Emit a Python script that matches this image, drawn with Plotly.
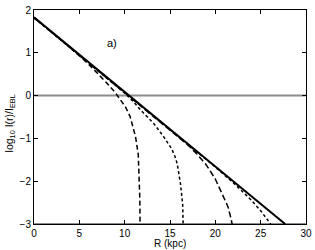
import plotly.graph_objects as go

# Data
R_solid = [0.0, 27.7]
y_solid = [1.83, -3.0]

R_c1 = [0, 4, 6, 7, 8, 9, 9.55, 10.1, 10.6, 11.2, 11.5, 11.6, 11.67, 11.7]
y_c1 = [1.82, 1.12, 0.74, 0.53, 0.30, 0.06, -0.10, -0.27, -0.49, -0.96, -1.38, -1.8, -2.4, -3.0]

R_c2 = [0, 4, 8, 9, 10, 11, 11.73, 13.2, 14.3, 15.2, 15.6, 15.8, 16.15, 16.4, 16.45]
y_c2 = [1.82, 1.12, 0.43, 0.25, 0.06, -0.15, -0.33, -0.65, -0.96, -1.25, -1.45, -1.6, -2.05, -2.55, -3.0]

R_c3 = [0, 5, 10, 15, 16, 17, 18, 19, 20, 20.8, 21.4, 21.7, 21.85]
y_c3 = [1.82, 0.95, 0.08, -0.79, -0.97, -1.16, -1.37, -1.62, -1.95, -2.3, -2.6, -2.85, -3.0]

R_c4 = [0, 5, 10, 15, 20, 22, 23, 24, 25, 25.7, 26.1]
y_c4 = [1.82, 0.95, 0.08, -0.79, -1.67, -2.04, -2.24, -2.45, -2.69, -2.88, -3.0]

x_ticks = [0, 5, 10, 15, 20, 25, 30]
y_ticks = [-3, -2, -1, 0, 1, 2]
y_ticklabels = ["\u22123", "\u22122", "\u22121", "0", "1", "2"]

fig = go.Figure()

# gray reference lines
fig.add_trace(go.Scatter(x=[0, 30], y=[0, 0], mode="lines",
                         line=dict(color="#8c8c8c", width=2), hoverinfo="skip"))
fig.add_trace(go.Scatter(x=[0, 30], y=[-3, -3], mode="lines",
                         line=dict(color="#8c8c8c", width=2), hoverinfo="skip"))

dash_styles = ["5px,3px", "3px,2.5px", "6px,3px", "3px,2.5px"]
for (xs, ys), d in zip([(R_c1, y_c1), (R_c2, y_c2), (R_c3, y_c3), (R_c4, y_c4)], dash_styles):
    fig.add_trace(go.Scatter(x=xs, y=ys, mode="lines",
                             line=dict(color="black", width=1.5, dash=d)))

fig.add_trace(go.Scatter(x=R_solid, y=y_solid, mode="lines",
                         line=dict(color="black", width=2)))

fig.add_annotation(x=8.6, y=1.22, text="a)", showarrow=False,
                   font=dict(size=11, color="black"))

# axis titles as annotations (fixed positions)
fig.add_annotation(xref="paper", yref="paper", x=0.5, y=0, yshift=-19,
                   text="R (kpc)", showarrow=False, yanchor="middle",
                   font=dict(size=10, color="black"))
fig.add_annotation(xref="paper", yref="paper", x=0, xshift=-24, y=0.47,
                   text="log<sub>10</sub> I(r)/I<sub>EBL</sub>", textangle=-90,
                   showarrow=False, xanchor="center", yanchor="middle",
                   font=dict(size=10.5, color="black"))

axis_common = dict(showgrid=False, zeroline=False, showline=True, linecolor="black",
                   linewidth=1, mirror="allticks", ticks="inside", ticklen=4,
                   tickcolor="black", tickfont=dict(size=10, color="black"),
                   automargin=False)

fig.update_xaxes(range=[0, 30], tickvals=x_ticks, **axis_common)
fig.update_yaxes(range=[-3, 2], tickvals=y_ticks, ticktext=y_ticklabels, **axis_common)

fig.update_layout(width=315, height=250, showlegend=False,
                  margin=dict(l=34, r=9, t=10, b=26),
                  plot_bgcolor="white", paper_bgcolor="white",
                  font=dict(family="Liberation Sans, Arial, sans-serif", color="black"))

fig.write_html("out.html", config={"displayModeBar": False},
               post_script="document.body.style.margin='0';document.body.style.overflow='hidden';")
